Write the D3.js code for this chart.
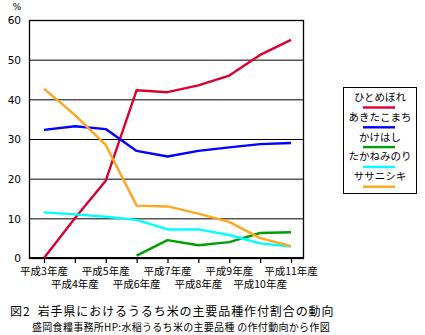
<!DOCTYPE html>
<html><head><meta charset="utf-8">
<script src="https://cdn.jsdelivr.net/npm/d3@7"></script>
<style>body{margin:0;background:#fff}svg{display:block}text{font-family:"Noto Sans CJK JP","Noto Sans",sans-serif;fill:#000}</style>
</head><body>
<script>
const categories = ["平成3年産","平成4年産","平成5年産","平成6年産","平成7年産","平成8年産","平成9年産","平成10年産","平成11年産"];
const seriesNames = ["ひとめぼれ","あきたこまち","かけはし","たかねみのり","ササニシキ"];
const hitomebore = [0, 10, 19.5, 42.3, 41.8, 43.5, 46, 51.2, 55];
const akitakomachi = [32.3, 33.2, 32.5, 27, 25.6, 27, 27.9, 28.7, 29];
const kakehashi = [null, null, null, 0.6, 4.5, 3.2, 4.0, 6.3, 6.5];
const takanenominori = [11.5, 11, 10.4, 9.6, 7.2, 7.2, 5.8, 3.7, 2.9];
const sasanishiki = [42.7, 36, 28.5, 13.2, 13, 11.2, 9.1, 5, 3];
const yTicks = [0, 10, 20, 30, 40, 50, 60];
const colors = ["#dc0030", "#0000ff", "#00a000", "#00ffff", "#ffa520"];
const caption1 = "図2  岩手県におけるうるち米の主要品種作付割合の動向";
const caption2 = "盛岡食糧事務所HP:水稲うるち米の主要品種 の作付動向から作図";

const seriesValues = [hitomebore, akitakomachi, kakehashi, takanenominori, sasanishiki];

const W = 425, H = 335;
const L = 29, R = 304, T = 20, B = 258;
const svg = d3.select("body").append("svg").attr("width", W).attr("height", H);

const x = d3.scalePoint().domain(categories).range([44, 291]);
const y = d3.scaleLinear().domain([0, 60]).range([B, T]);

// gridlines
svg.append("g").selectAll("line").data(yTicks.filter(d => d > 0 && d < 60)).join("line")
  .attr("x1", L).attr("x2", R).attr("y1", d => y(d) + 0.5).attr("y2", d => y(d) + 0.5)
  .attr("stroke", "#000").attr("stroke-width", 1);

// frame
svg.append("rect").attr("x", L + 0.5).attr("y", T + 0.5).attr("width", R - L - 1).attr("height", B - T)
  .attr("fill", "none").attr("stroke", "#000").attr("stroke-width", 1.3);

// y axis labels
const yAxis = d3.axisLeft(y).tickValues(yTicks).tickSize(0).tickPadding(8).tickFormat(d3.format("d"));
const gy = svg.append("g").attr("transform", `translate(${L},0)`).call(yAxis);
gy.select(".domain").remove();
gy.selectAll("text").attr("font-size", 10.5).attr("dy", "0.35em")
  .style("font-family", "'DejaVu Sans', sans-serif");

svg.append("text").attr("x", 17).attr("y", 10).attr("text-anchor", "middle").attr("font-size", 9)
  .style("font-family", "'DejaVu Sans', sans-serif").text("%");

// x axis
const xAxis = d3.axisBottom(x).tickSize(5).tickFormat(() => "");
const gx = svg.append("g").attr("transform", `translate(0,${B})`).call(xAxis);
gx.select(".domain").attr("d", `M${L},0H${R}`).attr("stroke", "#000").attr("stroke-width", 2);
gx.selectAll(".tick line").attr("stroke", "#000").attr("stroke-width", 1.2);
svg.append("g").selectAll("text").data(categories).join("text")
  .attr("x", d => x(d)).attr("y", (d, i) => i % 2 === 0 ? 275 : 288)
  .attr("text-anchor", "middle").attr("font-size", 10.5).text(d => d);

// lines
const line = d3.line()
  .defined(d => d.v !== null)
  .x(d => x(d.c)).y(d => y(d.v));
seriesValues.forEach((vals, si) => {
  const pts = categories.map((c, i) => ({c, v: vals[i]}));
  svg.append("path").datum(pts).attr("d", line)
    .attr("fill", "none").attr("stroke", colors[si]).attr("stroke-width", 2.4)
    .attr("stroke-linejoin", "round");
});

// legend
const lg = svg.append("g");
lg.append("rect").attr("x", 343.5).attr("y", 87.5).attr("width", 73).attr("height", 106)
  .attr("fill", "#fff").attr("stroke", "#000").attr("stroke-width", 1);
seriesNames.forEach((n, i) => {
  const cy = 97 + i * 19.8;
  lg.append("text").attr("x", 380).attr("y", cy + 4).attr("text-anchor", "middle")
    .attr("font-size", 10.5).text(n);
  lg.append("line").attr("x1", 363).attr("x2", 395).attr("y1", cy + 10.5).attr("y2", cy + 10.5)
    .attr("stroke", colors[i]).attr("stroke-width", 2.4);
});

// captions
svg.append("text").attr("x", 10).attr("y", 316).attr("font-size", 12).attr("letter-spacing", 0.9)
  .attr("xml:space", "preserve").text(caption1);
svg.append("text").attr("x", 32).attr("y", 331).attr("font-size", 10).attr("letter-spacing", 0.3)
  .attr("xml:space", "preserve").text(caption2);
</script>
</body></html>
